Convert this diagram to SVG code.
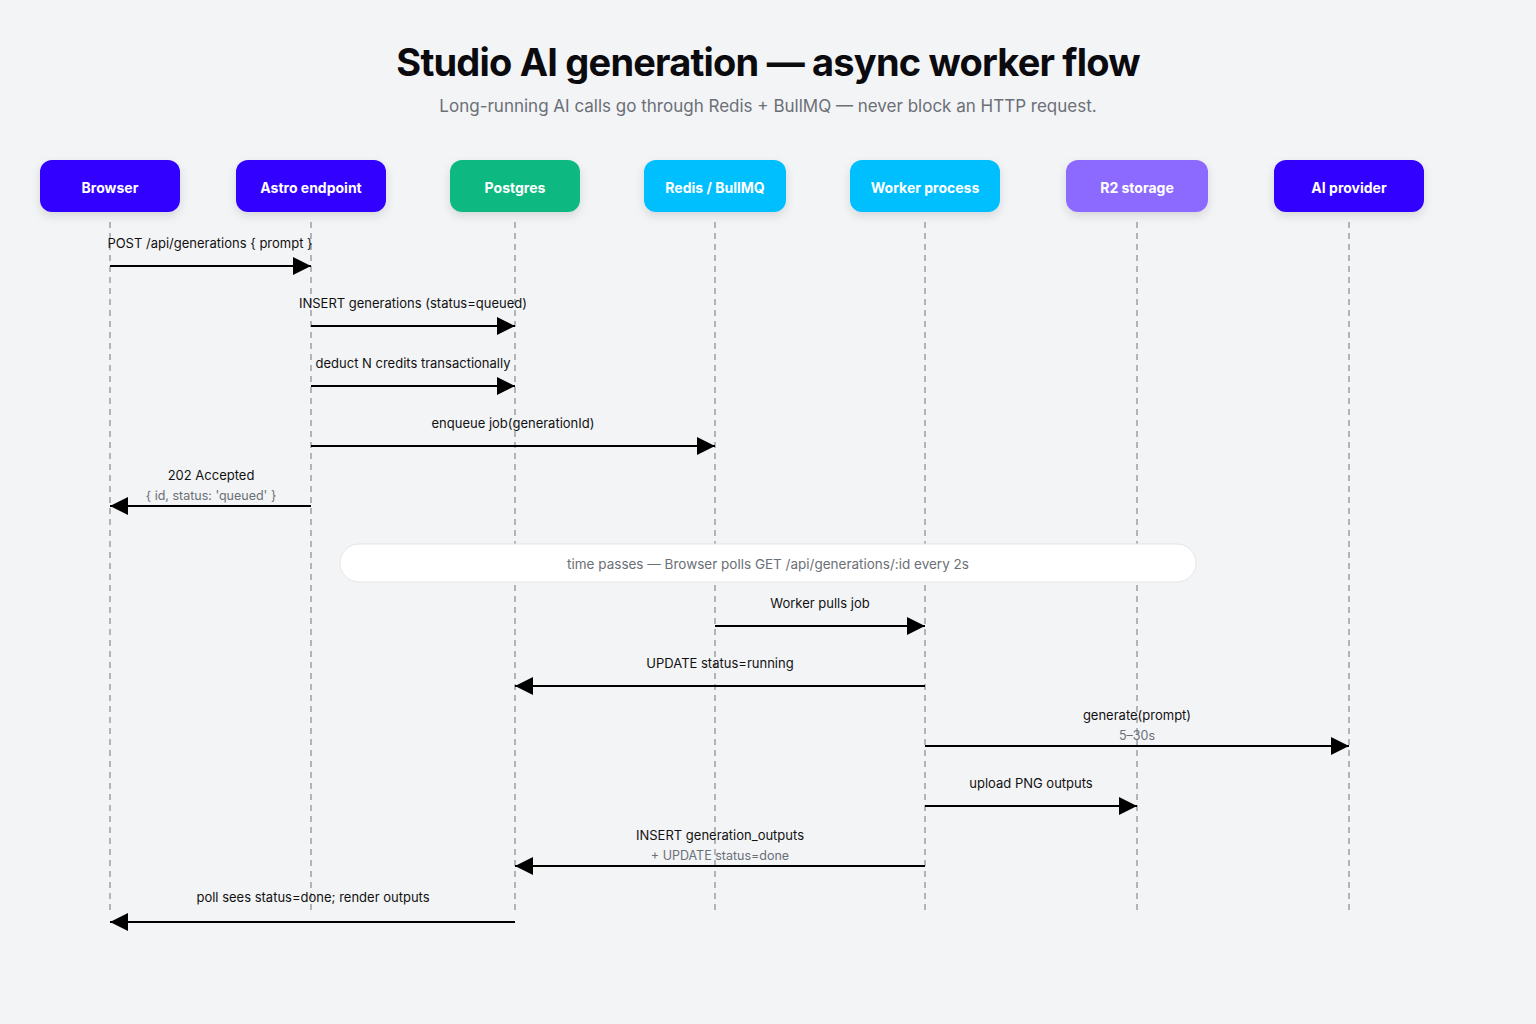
<svg xmlns="http://www.w3.org/2000/svg" width="1536" height="1024" viewBox="0 0 1536 1024">
<defs>
<marker id="ah" viewBox="0 0 10 10" refX="10" refY="5" markerWidth="18" markerHeight="18" markerUnits="userSpaceOnUse" orient="auto"><path d="M0,0 L10,5 L0,10 z" fill="#000"/></marker>
<filter id="sh" x="-20%" y="-30%" width="140%" height="180%"><feDropShadow dx="0" dy="4" stdDeviation="5" flood-color="#000" flood-opacity="0.12"/></filter>
<style>
text{font-family:Inter,"Noto Sans","Liberation Sans",sans-serif}
.nt{fill:#fff;font-size:14px;font-weight:700;text-anchor:middle}
.life{stroke:#9aa0a8;stroke-width:1.5;stroke-dasharray:6 5}
.msg{stroke:#000;stroke-width:2;fill:none;marker-end:url(#ah)}
.lb{font-size:13px;fill:#111;text-anchor:middle}
.sub{font-size:12.5px;fill:#6b6f76;text-anchor:middle}
</style>
</defs>
<rect width="1536" height="1024" fill="#f3f4f6"/>
<text x="768" y="76" font-size="38" font-weight="700" letter-spacing="-0.8" fill="#0b0b0f" text-anchor="middle">Studio AI generation — async worker flow</text>
<text x="768" y="112" font-size="17" fill="#6b6f76" text-anchor="middle">Long-running AI calls go through Redis + BullMQ — never block an HTTP request.</text>
<g id="lifelines">
<line class="life" x1="110" y1="222" x2="110" y2="910"/>
<line class="life" x1="311" y1="222" x2="311" y2="910"/>
<line class="life" x1="515" y1="222" x2="515" y2="910"/>
<line class="life" x1="715" y1="222" x2="715" y2="910"/>
<line class="life" x1="925" y1="222" x2="925" y2="910"/>
<line class="life" x1="1137" y1="222" x2="1137" y2="910"/>
<line class="life" x1="1349" y1="222" x2="1349" y2="910"/>
</g>
<g id="n-browser"><rect x="40" y="160" width="140" height="52" rx="12" fill="#3300ff" filter="url(#sh)"/><text class="nt" x="110" y="193">Browser</text></g>
<g id="n-astro"><rect x="236" y="160" width="150" height="52" rx="12" fill="#3300ff" filter="url(#sh)"/><text class="nt" x="311" y="193">Astro endpoint</text></g>
<g id="n-postgres"><rect x="450" y="160" width="130" height="52" rx="12" fill="#10b981" filter="url(#sh)"/><text class="nt" x="515" y="193">Postgres</text></g>
<g id="n-redis"><rect x="644" y="160" width="142" height="52" rx="12" fill="#00bfff" filter="url(#sh)"/><text class="nt" x="715" y="193">Redis / BullMQ</text></g>
<g id="n-worker"><rect x="850" y="160" width="150" height="52" rx="12" fill="#00bfff" filter="url(#sh)"/><text class="nt" x="925" y="193">Worker process</text></g>
<g id="n-r2"><rect x="1066" y="160" width="142" height="52" rx="12" fill="#8c6bff" filter="url(#sh)"/><text class="nt" x="1137" y="193">R2 storage</text></g>
<g id="n-ai"><rect x="1274" y="160" width="150" height="52" rx="12" fill="#3300ff" filter="url(#sh)"/><text class="nt" x="1349" y="193">AI provider</text></g>
<g id="band"><rect x="340" y="544" width="856" height="38" rx="19" fill="#fff" stroke="#e3e5e8"/><text x="768" y="569" font-size="13.5" fill="#6b6f76" text-anchor="middle">time passes — Browser polls GET /api/generations/:id every 2s</text></g>
<g id="connectors">
<line class="msg" x1="110" y1="266" x2="311" y2="266"/><text class="lb" x="210" y="248">POST /api/generations { prompt }</text>
<line class="msg" x1="311" y1="326" x2="515" y2="326"/><text class="lb" x="413" y="308">INSERT generations (status=queued)</text>
<line class="msg" x1="311" y1="386" x2="515" y2="386"/><text class="lb" x="413" y="368">deduct N credits transactionally</text>
<line class="msg" x1="311" y1="446" x2="715" y2="446"/><text class="lb" x="513" y="428">enqueue job(generationId)</text>
<line class="msg" x1="311" y1="506" x2="110" y2="506"/><text class="lb" x="211" y="480">202 Accepted</text><text class="sub" x="211" y="500">{ id, status: 'queued' }</text>
<line class="msg" x1="715" y1="626" x2="925" y2="626"/><text class="lb" x="820" y="608">Worker pulls job</text>
<line class="msg" x1="925" y1="686" x2="515" y2="686"/><text class="lb" x="720" y="668">UPDATE status=running</text>
<line class="msg" x1="925" y1="746" x2="1349" y2="746"/><text class="lb" x="1137" y="720">generate(prompt)</text><text class="sub" x="1137" y="740">5–30s</text>
<line class="msg" x1="925" y1="806" x2="1137" y2="806"/><text class="lb" x="1031" y="788">upload PNG outputs</text>
<line class="msg" x1="925" y1="866" x2="515" y2="866"/><text class="lb" x="720" y="840">INSERT generation_outputs</text><text class="sub" x="720" y="860">+ UPDATE status=done</text>
<line class="msg" x1="515" y1="922" x2="110" y2="922"/><text class="lb" x="313" y="902">poll sees status=done; render outputs</text>
</g>
</svg>
